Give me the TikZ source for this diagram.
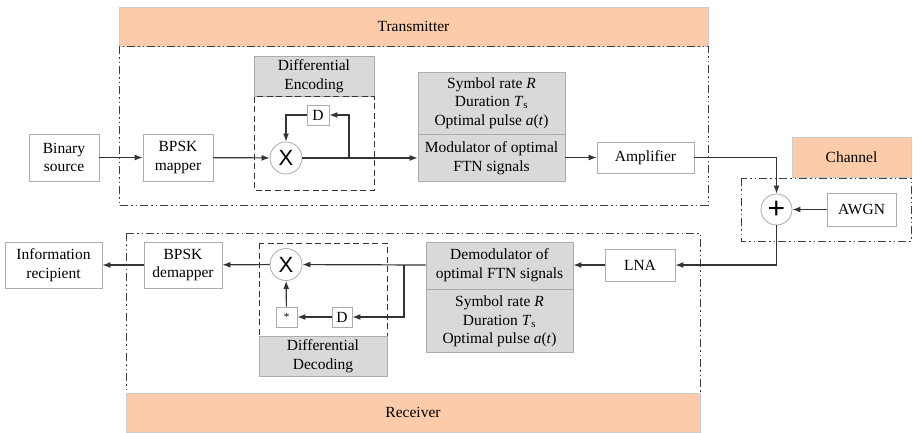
\documentclass[tikz,border=0pt]{standalone}
\usepackage{fontspec}
\setmainfont{LiberationSerif}[Extension=.ttf, UprightFont=*-Regular, ItalicFont=*-Italic, BoldFont=*-Bold, BoldItalicFont=*-BoldItalic]
\newfontfamily\opfont{Liberation Sans}
\usetikzlibrary{arrows.meta}
\definecolor{peach}{RGB}{252,204,170}
\definecolor{boxgrey}{RGB}{217,217,217}
\tikzset{
 txt/.style={font=\rmfamily\fontsize{15.5}{18.6}\selectfont},
 blk/.style={draw=gray!65, fill=white, align=center, inner sep=0pt, line width=0.8pt, txt},
 greyblk/.style={blk, fill=boxgrey},
 band/.style={draw=gray!40, fill=peach, line width=0.8pt},
 opnode/.style={circle, draw=gray!65, fill=white, inner sep=0pt, line width=0.8pt,
   minimum size=#1, font=\opfont\fontsize{22}{22}\selectfont},
 wire/.style={draw=black!80, line width=1.2pt},
 arr/.style={wire, -{Latex[length=8pt,width=6pt]}},
 frame/.style={draw=black!75, line width=0.9pt,
   dash pattern=on 8pt off 3pt on 1.5pt off 3pt on 1.5pt off 3pt},
 dbox/.style={draw=black!80, line width=1pt, dash pattern=on 6pt off 3.5pt}
}
\begin{document}
\begin{tikzpicture}[x=1pt,y=-1pt]
 \useasboundingbox (0,0) rectangle (913,432);
 % transmitter
 \draw[band] (119,7) rectangle (708,46);
 \node[txt] (txlbl) at (413.5,26.5) {Transmitter};
 \draw[frame] (119,46) rectangle (708,205);
 \node[blk, minimum width=70pt, minimum height=47pt] (src) at (64,157.5) {Binary\\source};
 \node[blk, minimum width=70pt, minimum height=47pt] (map) at (178,157.5) {BPSK\\mapper};
 \node[greyblk, minimum width=120pt, minimum height=40pt] (enchd) at (314,76.5) {Differential\\Encoding};
 \draw[dbox] (254,96.5) rectangle (374,190);
 \node[opnode=32pt] (encx) at (286,158) {X};
 \node[blk, minimum width=22pt, minimum height=20pt] (encd) at (318,115) {D};
 \coordinate (encfb) at (349,158);
 \node[greyblk, minimum width=147pt, minimum height=62pt] (modpar) at (491.5,103)
   {Symbol rate \textit{R}\\Duration \textit{T}\textsubscript{s}\\Optimal pulse \textit{a}(\textit{t})};
 \node[greyblk, minimum width=147pt, minimum height=47pt, anchor=north] (mod) at (modpar.south)
   {Modulator of optimal\\FTN signals};
 \node[blk, minimum width=97pt, minimum height=31pt] (amp) at (645.5,157.5) {Amplifier};
 % channel
 \draw[band] (792,137) rectangle (911,177.5);
 \node[txt] (chlbl) at (851.5,157) {Channel};
 \draw[frame] (741,178) rectangle (911,241);
 \node[opnode=31pt, font=\opfont\fontsize{30}{30}\selectfont] (plus) at (776.5,209.5) {+};
 \node[blk, minimum width=69pt, minimum height=33pt] (awgn) at (861.5,209.5) {AWGN};
 % receiver
 \draw[frame] (126,233) rectangle (700,393);
 \draw[band] (126,393) rectangle (700,432);
 \node[txt] (rxlbl) at (413,412.5) {Receiver};
 \node[blk, minimum width=70pt, minimum height=32pt] (lna) at (640,265) {LNA};
 \node[greyblk, minimum width=147pt, minimum height=47pt] (dem) at (499.5,265.5)
   {Demodulator of\\optimal FTN signals};
 \node[greyblk, minimum width=147pt, minimum height=63pt, anchor=north] (dempar) at (dem.south)
   {Symbol rate \textit{R}\\Duration \textit{T}\textsubscript{s}\\Optimal pulse \textit{a}(\textit{t})};
 \draw[dbox] (259,243) rectangle (387,336);
 \node[greyblk, minimum width=128pt, minimum height=40pt] (dechd) at (323,356) {Differential\\Decoding};
 \node[opnode=32pt] (decx) at (286,264.5) {X};
 \node[blk, minimum width=20pt, minimum height=20pt] (decd) at (342,317) {D};
 \node[blk, minimum width=21pt, minimum height=20pt, font=\rmfamily\fontsize{11}{11}\selectfont] (conj) at (286.5,317) {*};
 \coordinate (decfb) at (404,265);
 \node[blk, minimum width=78pt, minimum height=46pt] (demap) at (183,265) {BPSK\\demapper};
 \node[blk, minimum width=97pt, minimum height=46pt] (rcp) at (53.5,265) {Information\\recipient};
 % connectors
 \draw[arr] (src) -- (map);
 \draw[arr] (map) -- (encx);
 \draw[wire] (encx) -- (encfb);
 \draw[arr] (encfb) |- (encd);
 \draw[arr] (encd) -| (encx);
 \draw[arr] (encfb) -- (encfb -| mod.west);
 \draw[arr] (mod.east |- amp) -- (amp);
 \draw[arr] (amp) -| (plus);
 \draw[arr] (awgn) -- (plus);
 \draw[arr] (plus) |- (lna);
 \draw[arr] (lna) -- (lna -| dem.east);
 \draw[arr] (decfb -| dem.west) -- (decx);
 \draw[arr] (decfb) |- (decd);
 \draw[arr] (decd) -- (conj);
 \draw[arr] (conj) -- (decx);
 \draw[arr] (decx) -- (demap);
 \draw[arr] (demap) -- (rcp);
\end{tikzpicture}
\end{document}
